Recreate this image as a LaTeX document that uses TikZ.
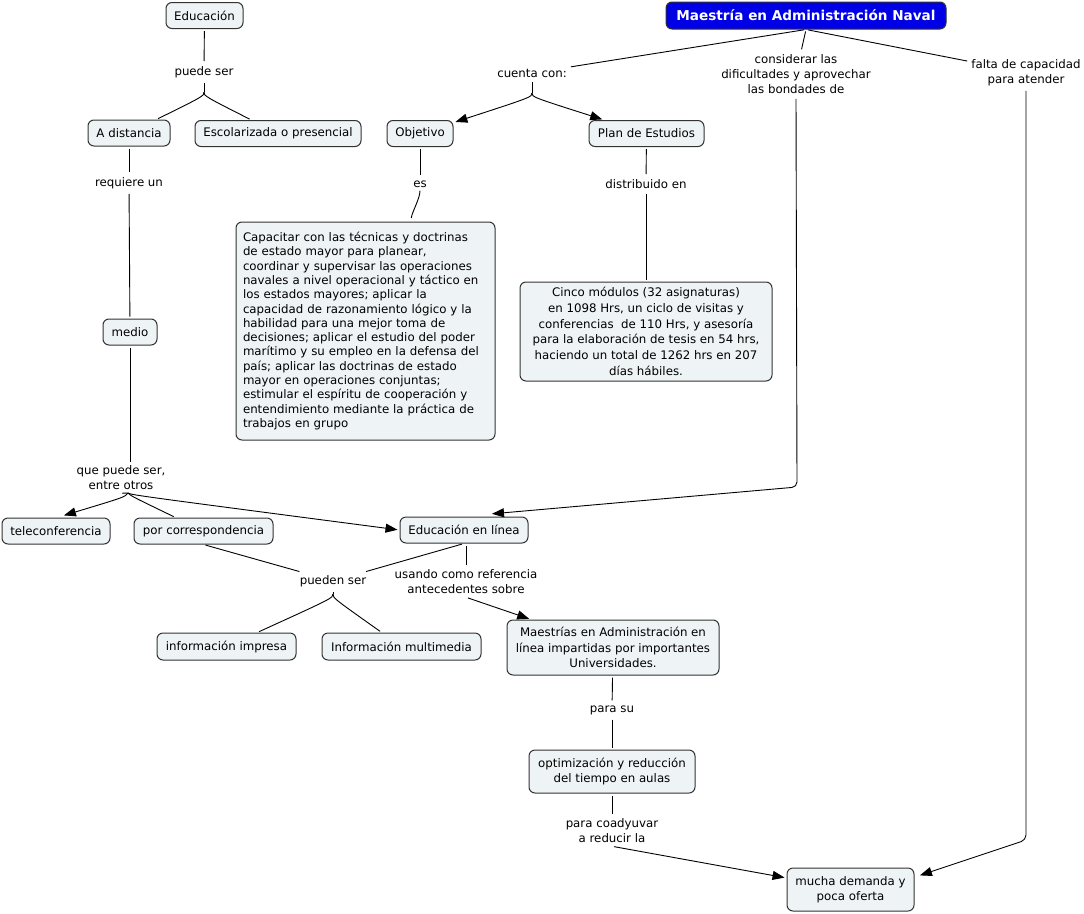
\documentclass[tikz,border=0pt]{standalone}
\usepackage{fontspec}
\setmainfont{DejaVu Sans}
\usetikzlibrary{arrows.meta,calc}
\definecolor{boxfill}{HTML}{EEF3F5}
\definecolor{boxline}{HTML}{333333}
\definecolor{titleblue}{HTML}{0000E6}
\begin{document}
\begin{tikzpicture}[x=1pt,y=-1pt,
  concept/.style={draw=boxline, fill=boxfill, rounded corners=6pt, line width=1pt,
    inner xsep=6pt, inner ysep=0pt, minimum height=26pt, align=center,
    font=\fontsize{11.8}{16}\selectfont},
  lbl/.style={inner xsep=2pt, inner ysep=3pt, align=center,
    font=\fontsize{11.8}{15}\selectfont},
  conn/.style={line width=0.9pt, shorten <=2pt, shorten >=2pt},
  arr/.style={conn, -{Triangle[length=12pt,width=9pt]}},
]
\useasboundingbox (0,0) rectangle (1084,913);
\fill[white] (0,0) rectangle (1084,913);

% concepts
\node[concept, minimum width=77pt] (edu) at (204.5,15.5) {Educación};
\node[concept, fill=titleblue, text=white, minimum width=280pt, minimum height=27pt,
      font=\bfseries\fontsize{13.6}{16}\selectfont] (man) at (806,15.5) {Maestría en Administración Naval};
\node[concept, minimum width=82pt] (adist) at (129,133) {A distancia};
\node[concept, minimum width=166pt] (esc) at (278,133.5) {Escolarizada o presencial};
\node[concept, minimum width=66pt] (obj) at (420,133.5) {Objetivo};
\node[concept, minimum width=115pt] (plan) at (646.5,133.5) {Plan de Estudios};
\node[concept, minimum width=259pt, minimum height=218pt, align=left, inner xsep=7pt,
      text width=245pt, font=\fontsize{11.8}{14.3}\selectfont] (cap) at (365.5,331) {Capacitar con las técnicas y doctrinas\\
de estado mayor para planear,\\
coordinar y supervisar las operaciones\\
navales a nivel operacional y táctico en\\
los estados mayores; aplicar la\\
capacidad de razonamiento lógico y la\\
habilidad para una mejor toma de\\
decisiones; aplicar el estudio del poder\\
marítimo y su empleo en la defensa del\\
país; aplicar las doctrinas de estado\\
mayor en operaciones conjuntas;\\
estimular el espíritu de cooperación y\\
entendimiento mediante la práctica de\\
trabajos en grupo};
\node[concept, minimum width=252pt, minimum height=99pt,
      font=\fontsize{11.8}{15.7}\selectfont] (cinco) at (646,331.5) {Cinco módulos (32 asignaturas)\\
en 1098 Hrs, un ciclo de visitas y\\
conferencias \ de 110 Hrs, y asesoría\\
para la elaboración de tesis en 54 hrs,\\
haciendo un total de 1262 hrs en 207\\
días hábiles.};
\node[concept, minimum width=54pt] (medio) at (130,332) {medio};
\node[concept, minimum width=108pt] (tele) at (56,531) {teleconferencia};
\node[concept, minimum width=139pt] (porc) at (203.5,531) {por correspondencia};
\node[concept, minimum width=128pt] (edul) at (464,530) {Educación en línea};
\node[concept, minimum width=139pt, minimum height=27pt] (impr) at (226.5,646.5) {información impresa};
\node[concept, minimum width=159pt, minimum height=27pt] (mult) at (401.5,646.5) {Información multimedia};
\node[concept, minimum width=212pt, minimum height=55pt,
      font=\fontsize{11.8}{15.5}\selectfont] (maes) at (613,647.5) {Maestrías en Administración en\\
línea impartidas por importantes\\
Universidades.};
\node[concept, minimum width=166pt, minimum height=43pt,
      font=\fontsize{11.8}{15.5}\selectfont] (opt) at (612,771.5) {optimización y reducción\\del tiempo en aulas};
\node[concept, minimum width=127pt, minimum height=43pt,
      font=\fontsize{11.8}{15.5}\selectfont] (mucha) at (850.5,889.5) {mucha demanda y\\poca oferta};

% linking phrases
\node[lbl] (lpuede) at (204,72) {puede ser};
\node[lbl] (lcuenta) at (532,73) {cuenta con:};
\node[lbl] (lconsid) at (796,74) {considerar las\\dificultades y aprovechar\\las bondades de};
\node[lbl] (lfalta) at (1026,72.5) {falta de capacidad\\para atender};
\node[lbl] (lreq) at (129,183) {requiere un};
\node[lbl] (les) at (420,184) {es};
\node[lbl] (ldist) at (646,184) {distribuido en};
\node[lbl] (lque) at (121,478) {que puede ser,\\entre otros};
\node[lbl] (lpueden) at (333,581) {pueden ser};
\node[lbl] (lusando) at (466,582) {usando como referencia\\antecedentes sobre};
\node[lbl] (lpara) at (612,710) {para su};
\node[lbl] (lcoady) at (612,831) {para coadyuvar\\a reducir la};

% junctions and bend points
\coordinate (jpuede) at (204,92);
\coordinate (jcuenta) at (532,93);
\coordinate (jque) at (128,493);
\coordinate (jpueden) at (333,594);
\coordinate (bconsid) at (797,487);
\coordinate (bfalta) at (1026,840);
\coordinate (tconsid) at (490,514);
\coordinate (tfalta) at (918,876);
\coordinate (ttele) at (62,516);
\coordinate (tcap) at (411,220);
\coordinate (equeup) at (130,462);

% connectors
\draw[conn] (edu) -- (lpuede);
\draw[conn, shorten >=0pt] (lpuede) -- (jpuede);
\draw[conn, shorten <=0pt] (jpuede) .. controls +(0,4) .. (adist);
\draw[conn, shorten <=0pt] (jpuede) .. controls +(0,4) .. (esc);

\draw[conn] (man.south) -- (lcuenta);
\draw[conn] (man.south) -- (lconsid);
\draw[conn] (man.south) -- (lfalta);

\draw[conn, shorten >=0pt] (lcuenta) -- (jcuenta);
\draw[arr, shorten <=0pt] (jcuenta) .. controls +(0,4) .. (obj);
\draw[arr, shorten <=0pt] (jcuenta) .. controls +(0,4) .. (plan);

\draw[conn] (adist) -- (lreq);
\draw[conn] (lreq) -- (medio);
\draw[conn] (obj) -- (les);
\draw[conn, shorten <=0pt] (les.south) .. controls +(0,8) and +(1,-8) .. (tcap);
\draw[conn] (plan) -- (ldist);
\draw[conn] (ldist) -- (cinco);

\draw[conn, shorten >=0pt] (medio.south) -- (equeup);
\draw[conn, shorten <=1pt, shorten >=0pt] (lque.south) -- (jque);
\draw[arr, shorten <=0pt] (jque) .. controls +(-3,4) .. (ttele);
\draw[conn, shorten <=0pt] (jque) .. controls +(3,3) .. (porc);
\draw[arr, shorten <=0pt] (jque) .. controls +(4,2) .. (edul.west);

\draw[arr, rounded corners=5pt] (lconsid.south) -- (bconsid) -- (tconsid);
\draw[arr, rounded corners=5pt] (lfalta.south) -- (bfalta) -- (tfalta);

\draw[conn] (porc.south) -- (lpueden);
\draw[conn] (edul.south) -- (lpueden);
\draw[conn, shorten >=0pt] (lpueden.south) -- (jpueden);
\draw[conn, shorten <=0pt] (jpueden) .. controls +(0,4) .. (impr);
\draw[conn, shorten <=0pt] (jpueden) .. controls +(0,4) .. (mult);

\draw[conn] (edul.south -| lusando.north) -- (lusando.north);
\draw[arr] (lusando.south) -- (maes);
\draw[conn] (maes) -- (lpara);
\draw[conn] (lpara) -- (opt);
\draw[conn] (opt) -- (lcoady);
\draw[arr] (lcoady.south) -- (mucha);
\end{tikzpicture}
\end{document}
